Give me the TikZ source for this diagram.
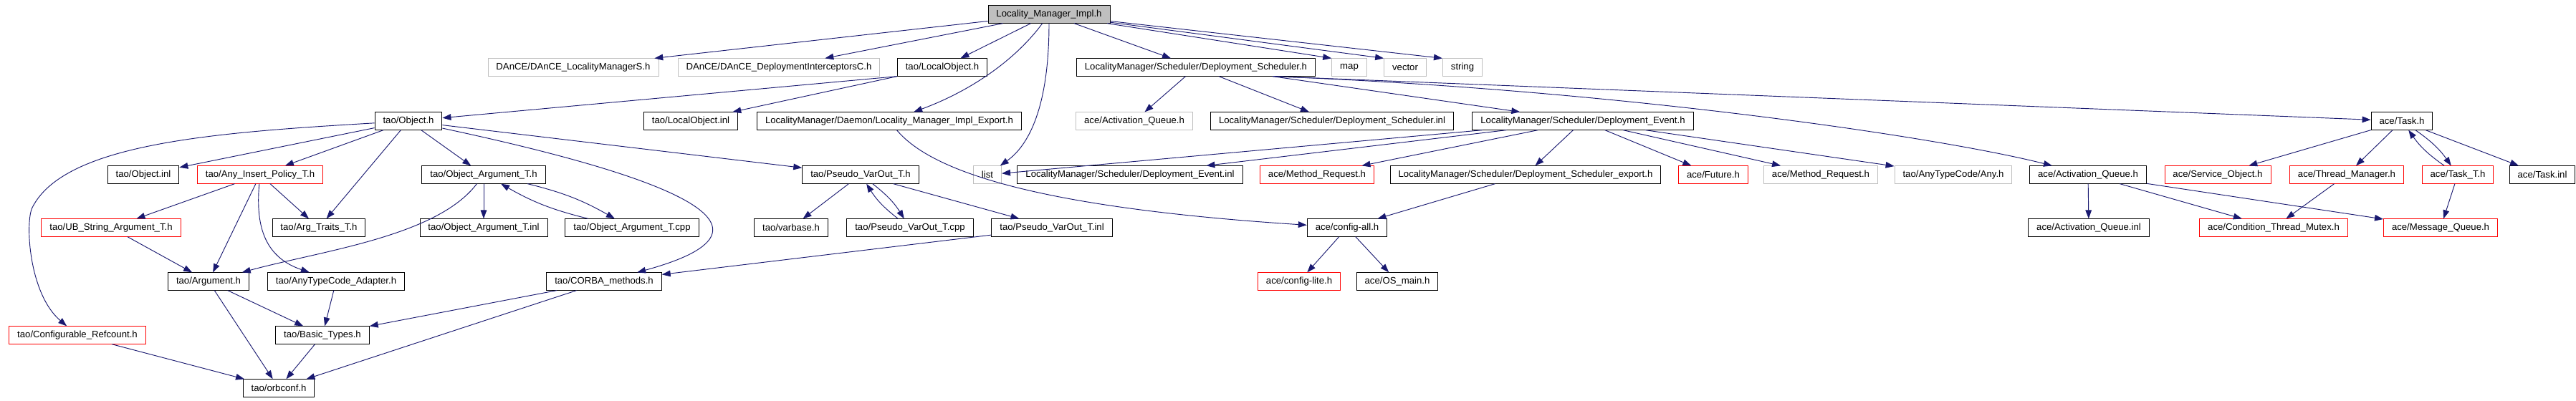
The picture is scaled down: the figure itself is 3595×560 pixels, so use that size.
\documentclass[tikz,border=0pt]{standalone}
\usepackage{fontspec}
\setmainfont{Liberation Sans}
\usetikzlibrary{arrows.meta}
\definecolor{edgeblue}{HTML}{191970}
\definecolor{sysgray}{HTML}{BFBFBF}

\begin{document}
\begin{tikzpicture}[x=0.75pt, y=-0.75pt,
    file/.style={draw=black, line width=0.75pt, minimum height=18.2pt,
        inner xsep=8.6pt, inner ysep=0pt, font=\fontsize{9.87}{11}\selectfont},
    sysfile/.style={file, draw=sysgray},
    cutfile/.style={file, draw=red},
    rootfile/.style={file, fill=sysgray},
    dep/.style={draw=edgeblue, line width=0.7pt,
        -{Triangle[length=9pt,width=6.5pt,fill=edgeblue]}}]
    \useasboundingbox (0,0) rectangle (3595,560);

    % Root
    \node[rootfile] (lmi) at (1464,20) {Locality\_Manager\_Impl.h};

    % Row 1
    \node[sysfile] (danceS) at (800,94) {DAnCE/DAnCE\_LocalityManagerS.h};
    \node[sysfile] (danceC) at (1087,94) {DAnCE/DAnCE\_DeploymentInterceptorsC.h};
    \node[file] (localobj) at (1315,94) {tao/LocalObject.h};
    \node[file] (dsched) at (1669,94) {LocalityManager/Scheduler/Deployment\_Scheduler.h};
    \node[sysfile] (map) at (1883,94) {map};
    \node[sysfile] (vector) at (1961,94) {vector};
    \node[sysfile] (string) at (2041,94) {string};

    % Row 2
    \node[file] (object) at (570,169) {tao/Object.h};
    \node[file] (localinl) at (964,169) {tao/LocalObject.inl};
    \node[file] (implexp) at (1241,169) {LocalityManager/Daemon/Locality\_Manager\_Impl\_Export.h};
    \node[sysfile] (actqsys) at (1583,169) {ace/Activation\_Queue.h};
    \node[file] (dschedinl) at (1859,169) {LocalityManager/Scheduler/Deployment\_Scheduler.inl};
    \node[file] (devent) at (2209,169) {LocalityManager/Scheduler/Deployment\_Event.h};
    \node[file] (task) at (3352,169) {ace/Task.h};

    % Row 3
    \node[file] (objinl) at (200,244) {tao/Object.inl};
    \node[cutfile] (anyins) at (363,244) {tao/Any\_Insert\_Policy\_T.h};
    \node[file] (objarg) at (675,244) {tao/Object\_Argument\_T.h};
    \node[file] (pvo) at (1201,244) {tao/Pseudo\_VarOut\_T.h};
    \node[sysfile] (list) at (1378,244) {list};
    \node[file] (deventinl) at (1577,244) {LocalityManager/Scheduler/Deployment\_Event.inl};
    \node[cutfile] (methreq) at (1838,244) {ace/Method\_Request.h};
    \node[file] (dschedexp) at (2129,244) {LocalityManager/Scheduler/Deployment\_Scheduler\_export.h};
    \node[cutfile] (future) at (2391,244) {ace/Future.h};
    \node[sysfile] (methreqsys) at (2541,244) {ace/Method\_Request.h};
    \node[sysfile] (any) at (2726,244) {tao/AnyTypeCode/Any.h};
    \node[file] (actq) at (2914,244) {ace/Activation\_Queue.h};
    \node[cutfile] (servobj) at (3095,244) {ace/Service\_Object.h};
    \node[cutfile] (thrmgr) at (3275,244) {ace/Thread\_Manager.h};
    \node[cutfile] (taskt) at (3430,244) {ace/Task\_T.h};
    \node[file] (taskinl) at (3548,244) {ace/Task.inl};

    % Row 4
    \node[cutfile] (ubstr) at (155,318) {tao/UB\_String\_Argument\_T.h};
    \node[file] (argtraits) at (445,318) {tao/Arg\_Traits\_T.h};
    \node[file] (objarginl) at (675,318) {tao/Object\_Argument\_T.inl};
    \node[file] (objargcpp) at (882,318) {tao/Object\_Argument\_T.cpp};
    \node[file] (varbase) at (1104,318) {tao/varbase.h};
    \node[file] (pvocpp) at (1270,318) {tao/Pseudo\_VarOut\_T.cpp};
    \node[file] (pvoinl) at (1468,318) {tao/Pseudo\_VarOut\_T.inl};
    \node[file] (configall) at (1880,318) {ace/config-all.h};
    \node[file] (actqinl) at (2915,318) {ace/Activation\_Queue.inl};
    \node[cutfile] (condmutex) at (3173,318) {ace/Condition\_Thread\_Mutex.h};
    \node[cutfile] (msgq) at (3406,318) {ace/Message\_Queue.h};

    % Row 5
    \node[file] (argument) at (291,393) {tao/Argument.h};
    \node[file] (adapter) at (469,393) {tao/AnyTypeCode\_Adapter.h};
    \node[file] (corba) at (843,393) {tao/CORBA\_methods.h};
    \node[cutfile] (configlite) at (1813,393) {ace/config-lite.h};
    \node[file] (osmain) at (1950,393) {ace/OS\_main.h};

    % Row 6
    \node[cutfile] (refcount) at (108,468) {tao/Configurable\_Refcount.h};
    \node[file] (basic) at (450,468) {tao/Basic\_Types.h};

    % Row 7
    \node[file] (orbconf) at (389,542) {tao/orbconf.h};

    % Straight includes
    \foreach \a/\b in {lmi/danceS, lmi/danceC, lmi/localobj, lmi/dsched,
        dsched/actqsys, dsched/dschedinl,
        devent/list, devent/deventinl, devent/methreq, devent/dschedexp,
        devent/future, devent/methreqsys, devent/any,
        dschedexp/configall, configall/configlite, configall/osmain,
        actq/actqinl, actq/condmutex, actq/msgq,
        task/servobj, task/thrmgr, task/taskinl, taskt/msgq, thrmgr/condmutex,
        object/objinl, object/anyins, object/argtraits, object/objarg, object/pvo,
        anyins/ubstr, anyins/argument, anyins/argtraits, ubstr/argument,
        objarg/objarginl, pvo/varbase, pvo/pvoinl, pvoinl/corba,
        argument/basic, argument/orbconf, adapter/basic, refcount/orbconf,
        basic/orbconf, corba/basic, corba/orbconf} {
        \draw[dep] (\a) -- (\b);
    }

    % Root to the standard headers
    \draw[dep] (lmi) -- (map.north west);
    \draw[dep] (lmi) -- (vector.north west);
    \draw[dep] (lmi) -- (string.north west);

    % LocalObject
    \draw[dep] (localobj.south west) -- (object);
    \draw[dep] (localobj.south west) -- (localinl);

    % Scheduler to the right hand side
    \draw[dep] ([xshift=-45pt]dsched.south east) -- (devent);
    \draw[dep] ([xshift=-45pt]dsched.south east) -- (task);
    \draw[dep] ([xshift=-45pt]dsched.south east) .. controls (2250,125) and (2700,190) .. (actq);

    % Curved includes
    \draw[dep] (lmi) .. controls (1464,140) and (1440,200) .. (list);
    \draw[dep] (lmi) .. controls (1420,80) and (1360,125) .. (implexp);
    \draw[dep] (implexp) .. controls (1300,240) and (1450,290) .. (configall);
    \draw[dep] (object) .. controls (300,185) and (90,200) .. (45,290)
        .. controls (35,310) and (40,410) .. (refcount);
    \draw[dep] (object) .. controls (950,250) and (1110,320) .. (corba);
    \draw[dep] (anyins) .. controls (356,320) and (372,360) .. (adapter);
    \draw[dep] (objarg) .. controls (610,330) and (450,350) .. (argument);

    % Mutual includes
    \draw[dep] (objarg) to[bend left=8] (objargcpp);
    \draw[dep] (objargcpp) to[bend left=8] (objarg);
    \draw[dep] (pvo) to[bend left=10] (pvocpp);
    \draw[dep] (pvocpp) to[bend left=10] (pvo);
    \draw[dep] (task) to[bend left=10] (taskt);
    \draw[dep] (taskt) to[bend left=10] (task);
\end{tikzpicture}
\end{document}
